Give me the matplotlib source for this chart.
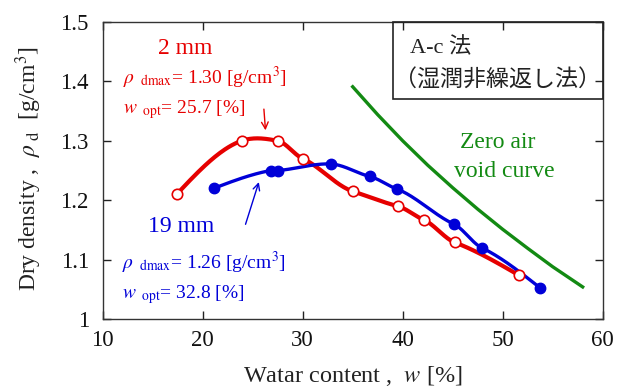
import numpy as np
import matplotlib
matplotlib.use("Agg")
import matplotlib.pyplot as plt
from matplotlib.patches import Rectangle

plt.rcParams['font.family'] = ['Liberation Serif', 'Noto Sans CJK JP', 'DejaVu Sans']
plt.rcParams['mathtext.fontset'] = 'stix'

# ---- data ----
w_2mm = [17.4, 23.9, 27.5, 30.0, 35.0, 39.5, 42.1, 45.2, 51.6]
rho_2mm = [1.210, 1.300, 1.300, 1.270, 1.215, 1.190, 1.167, 1.129, 1.074]
w_19mm = [21.1, 26.8, 27.5, 32.8, 36.7, 39.4, 45.1, 47.9, 53.7]
rho_19mm = [1.220, 1.250, 1.250, 1.261, 1.240, 1.219, 1.160, 1.120, 1.053]
w_zav = [35.0, 37.5, 40.0, 42.5, 45.0, 47.5, 50.0, 52.5, 55.0, 58.0]
rho_zav = [1.391, 1.344, 1.300, 1.259, 1.221, 1.185, 1.151, 1.119, 1.088, 1.054]

RED = '#e60000'
BLUE = '#0000d8'
GREEN = '#138a13'


def cardinal_spline(x, y, tension=0.35, n=40):
    """Smooth Hermite curve through the measured points."""
    x = np.asarray(x, float)
    y = np.asarray(y, float)
    m = len(x)
    t = np.zeros(m)
    for i in range(1, m - 1):
        t[i] = (1 - tension) * (y[i + 1] - y[i - 1]) / (x[i + 1] - x[i - 1])
    s0 = (y[1] - y[0]) / (x[1] - x[0])
    s1 = (y[-1] - y[-2]) / (x[-1] - x[-2])
    t[0] = 1.5 * s0 - 0.5 * t[1]
    t[-1] = 1.5 * s1 - 0.5 * t[-2]
    xs_all, ys_all = [], []
    for i in range(m - 1):
        h = x[i + 1] - x[i]
        u = np.linspace(0, 1, n)
        h00 = 2 * u**3 - 3 * u**2 + 1
        h10 = u**3 - 2 * u**2 + u
        h01 = -2 * u**3 + 3 * u**2
        h11 = u**3 - u**2
        xs_all.append(x[i] + u * h)
        ys_all.append(h00 * y[i] + h10 * h * t[i] + h01 * y[i + 1] + h11 * h * t[i + 1])
    return np.concatenate(xs_all), np.concatenate(ys_all)


fig = plt.figure(figsize=(6.27, 3.90), dpi=100)
ax = fig.add_axes([0.1638, 0.182, 0.7974, 0.7616])

cx, cy = cardinal_spline(w_2mm, rho_2mm)
ax.plot(cx, cy, color=RED, lw=3.0, solid_capstyle='round', zorder=3)
cx, cy = cardinal_spline(w_19mm, rho_19mm)
ax.plot(cx, cy, color=BLUE, lw=2.4, solid_capstyle='round', zorder=3)
ax.plot(w_zav, rho_zav, color=GREEN, lw=2.4, zorder=3)

ax.plot(w_2mm, rho_2mm, 'o', ms=7.5, mfc='white', mec=RED, mew=1.2, zorder=5)
ax.plot(w_19mm, rho_19mm, 'o', ms=7.5, mfc=BLUE, mec=BLUE, zorder=4)

ax.set_xlim(10, 60)
ax.set_ylim(1.0, 1.5)
ax.set_xticks([10, 20, 30, 40, 50, 60])
ax.set_yticks([1.0, 1.1, 1.2, 1.3, 1.4, 1.5])
ax.set_yticklabels(['1', '1.1', '1.2', '1.3', '1.4', '1.5'])
ax.tick_params(direction='in', length=6, width=1, top=True, right=True,
               labelsize=16.5, colors='#222222', labelcolor='#111111')
ax.tick_params(axis='y', pad=10)
ax.tick_params(axis='x', pad=8)
for s in ax.spines.values():
    s.set_linewidth(1.0)
    s.set_color('#333333')

ax.set_xlabel(r'Watar content ,  $w$ [%]', fontsize=17.5, color='#222222', labelpad=9)
ax.set_ylabel(r'Dry density ,  $\rho_{\ \mathrm{d}}$  [g/cm$^3$]', fontsize=17,
              color='#222222')
ax.yaxis.set_label_coords(-0.117, 0.505)

# annotations (2 mm)
ax.text(15.5, 1.455, '2 mm', color=RED, fontsize=17, va='center')
ax.text(12.0, 1.405, r'$\rho_{\ \ \mathrm{dmax}}$= 1.30 [g/cm$^3$]', color=RED,
        fontsize=14, va='center')
ax.text(12.0, 1.353, r'$w_{\ \ \mathrm{opt}}$= 25.7 [%]', color=RED,
        fontsize=14, va='center')
ax.annotate('', xy=(26.3, 1.313), xytext=(26.1, 1.358),
            arrowprops=dict(arrowstyle='->', color=RED, lw=1.0, mutation_scale=12))

# annotations (19 mm)
ax.text(14.5, 1.155, '19 mm', color=BLUE, fontsize=17, va='center')
ax.text(11.9, 1.095, r'$\rho_{\ \ \mathrm{dmax}}$= 1.26 [g/cm$^3$]', color=BLUE,
        fontsize=14, va='center')
ax.text(11.9, 1.042, r'$w_{\ \ \mathrm{opt}}$= 32.8 [%]', color=BLUE,
        fontsize=14, va='center')
ax.annotate('', xy=(25.7, 1.235), xytext=(24.2, 1.155),
            arrowprops=dict(arrowstyle='->', color=BLUE, lw=1.0, mutation_scale=12))

# zero air void label
ax.text(49.5, 1.297, 'Zero air', color=GREEN, fontsize=17, ha='center', va='center')
ax.text(50.2, 1.249, 'void curve', color=GREEN, fontsize=17, ha='center', va='center')

# method box
ax.add_patch(Rectangle((39.0, 1.3705), 21.0, 0.1295, transform=ax.transData,
                       fill=False, ec='#222222', lw=1.2, zorder=6, clip_on=False))
ax.text(40.7, 1.456, 'A-c 法', fontsize=16, color='#222222', va='center',
        family=['Liberation Serif', 'Noto Sans CJK JP'])
ax.text(39.1, 1.403, '（湿潤非繰返し法）', fontsize=16.6, color='#222222', va='center',
        family=['Noto Sans CJK JP', 'DejaVu Sans'])

fig.savefig('out.png', dpi=100)
